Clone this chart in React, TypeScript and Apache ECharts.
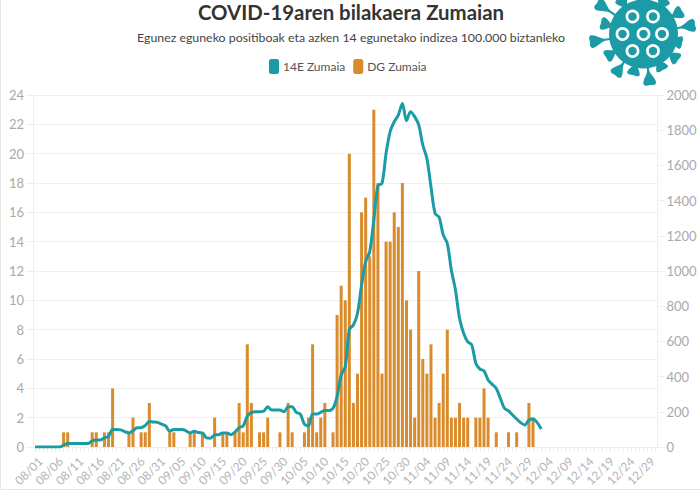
import React, { useEffect, useRef } from "react";
import * as echarts from "echarts";

const monthDays: [string, number][] = [["08", 31], ["09", 30], ["10", 31], ["11", 30], ["12", 31]];
const categories: string[] = monthDays.flatMap(([m, n]) =>
  Array.from({ length: n }, (_, i) => `${m}/${String(i + 1).padStart(2, "0")}`)
);

const dailyCases = [
  0, 0, 0, 0, 0, 0, 0, 1, 1, 0,
  0, 0, 0, 0, 1, 1, 0, 1, 1, 4,
  0, 0, 0, 1, 2, 0, 1, 1, 3, 0,
  0, 0, 0, 1, 1, 0, 0, 0, 1, 1,
  0, 1, 0, 0, 2, 0, 1, 1, 0, 1,
  3, 1, 7, 3, 0, 1, 1, 2, 0, 0,
  1, 0, 3, 1, 0, 0, 1, 2, 7, 1,
  2, 3, 0, 1, 9, 11, 10, 20, 3, 5,
  16, 17, 13, 23, 18, 5, 14, 14, 16, 15,
  18, 10, 8, 2, 12, 6, 5, 7, 2, 3,
  5, 8, 2, 2, 3, 2, 2, 0, 2, 2,
  4, 2, 0, 1, 0, 0, 1, 0, 1, 0,
  0, 3, 2,
];

const incidence14 = [
  0, 0, 0, 0, 0, 0, 0, 10, 20, 20,
  20, 20, 20, 20, 35, 40, 40, 52, 60, 100,
  100, 97, 87, 80, 92, 110, 110, 122, 145, 142,
  140, 130, 120, 90, 100, 100, 100, 92, 80, 90,
  82, 80, 52, 50, 68, 70, 80, 80, 70, 85,
  110, 120, 175, 197, 200, 200, 203, 228, 210, 210,
  210, 200, 228, 228, 197, 187, 130, 120, 187, 187,
  197, 208, 208, 220, 286, 409, 456, 668, 693, 760,
  920, 1053, 1110, 1290, 1485, 1498, 1668, 1792, 1848, 1886,
  1952, 1854, 1905, 1877, 1830, 1716, 1640, 1479, 1328, 1305,
  1205, 1157, 1005, 892, 731, 646, 598, 580, 475, 443,
  432, 381, 356, 333, 276, 220, 205, 182, 159, 138,
  125, 153, 159, 140, 102,
];

const TEAL = "#1a9ba6";
const ORANGE = "#da8b2b";
const FONT = "Lato";

const ringCentres: [number, number][] = [
  [632.5, 16.5], [653, 16.5], [622.5, 34], [643.5, 34], [662, 34], [632.5, 51], [653, 51],
];
const spikeTips: [number, number][] = [
  [590, 42], [601, 23], [597, 3], [620, -2], [665, -1], [682, 11], [695, 25], [682, 43],
  [678, 60], [663, 70], [650, 85], [633, 75], [615, 75], [606, 57],
];

echarts.graphic.registerShape(
  "virusSpike",
  echarts.graphic.extendPath(
    "M-1.1 0 L-1.1 -0.72 C-2 -0.82 -6 -0.86 -6.5 -0.97 C-4 -1.03 -3 -1.0 0 -1 C3 -1.0 4 -1.03 6.5 -0.97 C6 -0.86 2 -0.82 1.1 -0.72 L1.1 0 Z",
    {}
  ) as any
);

function logo() {
  const cx = 643.5;
  const cy = 34;
  const items: any[] = [];
  spikeTips.forEach(([x, y]) => {
    const dx = x - cx;
    const dy = y - cy;
    const len = Math.hypot(dx, dy);
    items.push({
      type: "virusSpike",
      x: cx,
      y: cy,
      scaleY: len,
      rotation: -Math.atan2(dx, -dy),
      style: { fill: TEAL },
    });
  });
  items.push({ type: "circle", shape: { cx, cy, r: 34.5 }, style: { fill: TEAL } });
  ringCentres.forEach(([x, y]) => {
    items.push({
      type: "circle",
      shape: { cx: x, cy: y, r: 5.6 },
      style: { fill: TEAL, stroke: "#fff", lineWidth: 2.6 },
    });
  });
  return items;
}

export default function App() {
  const ref = useRef<HTMLDivElement>(null);
  useEffect(() => {
    const chart = echarts.init(ref.current!, undefined, { renderer: "svg" });
    const yLabel = { color: "#a9a9a9", fontSize: 13, fontFamily: FONT, margin: 9 };
    const axisLine = { show: true, lineStyle: { color: "#eeeeee" } };
    const axisTick = { show: true, length: 7, lineStyle: { color: "#eeeeee" } };
    chart.setOption({
      animation: false,
      backgroundColor: "#ffffff",
      textStyle: { fontFamily: FONT },
      title: {
        text: "COVID-19aren bilakaera Zumaian",
        subtext: "Egunez eguneko positiboak eta azken 14 egunetako indizea 100.000 biztanleko",
        left: 346,
        top: -3,
        textAlign: "center",
        itemGap: 9,
        textStyle: { color: "#333333", fontSize: 20.4, fontWeight: 700, fontFamily: FONT },
        subtextStyle: { color: "#444444", fontSize: 12.35, fontFamily: FONT },
      },
      legend: {
        top: 54,
        left: 264,
        itemWidth: 10,
        itemHeight: 15,
        itemGap: 8,
        icon: "roundRect",
        textStyle: { color: "#555555", fontSize: 12, fontFamily: FONT, padding: [0, 0, 0, -1] },
        data: ["14E Zumaia", "DG Zumaia"],
      },
      grid: { left: 33, right: 42.5, top: 95, bottom: 46 },
      xAxis: {
        type: "category",
        data: categories,
        boundaryGap: true,
        axisLine: { show: true, lineStyle: { color: "#eeeeee" } },
        axisTick: { show: true, length: 5, interval: 0, alignWithLabel: true, lineStyle: { color: "#eeeeee" } },
        axisLabel: {
          interval: 4,
          rotate: 45,
          align: "center",
          verticalAlign: "middle",
          padding: [0, 18, 0, 0],
          color: "#b5b5b5",
          fontSize: 12,
          fontFamily: FONT,
          margin: 17.5,
        },
      },
      yAxis: [
        {
          type: "value",
          min: 0,
          max: 24,
          interval: 2,
          axisLine,
          axisTick,
          axisLabel: yLabel,
          splitLine: { show: true, lineStyle: { color: "#f0f0f0" } },
        },
        {
          type: "value",
          min: 0,
          max: 2000,
          interval: 200,
          position: "right",
          axisLine,
          axisTick,
          axisLabel: { ...yLabel, formatter: (v: number) => String(v) },
          splitLine: { show: false },
        },
      ],
      series: [
        {
          name: "14E Zumaia",
          type: "line",
          yAxisIndex: 1,
          data: incidence14,
          smooth: 0.3,
          showSymbol: false,
          symbol: "none",
          z: 3,
          itemStyle: { color: TEAL },
          lineStyle: { color: TEAL, width: 3 },
        },
        {
          name: "DG Zumaia",
          type: "bar",
          yAxisIndex: 0,
          data: dailyCases,
          barWidth: 3,
          z: 2,
          itemStyle: { color: ORANGE },
        },
      ],
      graphic: [
        { type: "line", shape: { x1: 0.5, y1: 0, x2: 0.5, y2: 489 }, style: { stroke: "#e6e6e6", lineWidth: 1 } },
        { type: "line", shape: { x1: 0, y1: 489.5, x2: 700, y2: 489.5 }, style: { stroke: "#e6e6e6", lineWidth: 1 } },
        { type: "group", children: logo() },
      ],
    });
    return () => chart.dispose();
  }, []);
  return <div ref={ref} style={{ position: "absolute", left: 0, top: 0, width: 700, height: 493 }} />;
}
